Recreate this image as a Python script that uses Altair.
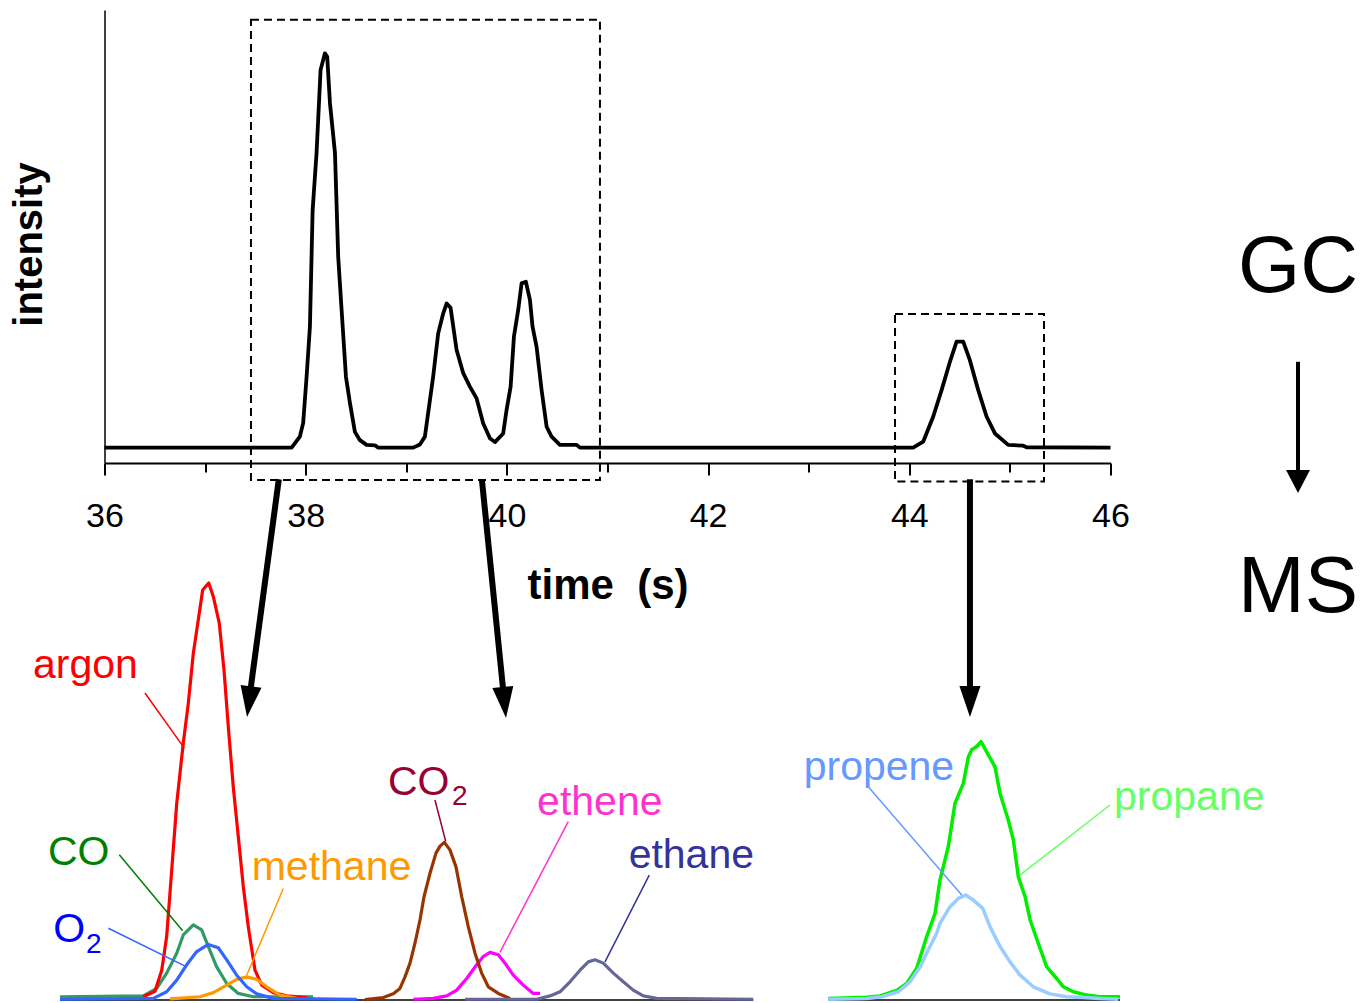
import altair as alt
import pandas as pd

FONT = "Liberation Sans"

# ---------------- GC chromatogram (time in s, normalised intensity) ----------------
gc_time = [36.0, 37.860, 37.942, 37.975, 38.009, 38.042, 38.069, 38.108, 38.148, 38.191,
           38.214, 38.241, 38.291, 38.323, 38.357, 38.400, 38.440, 38.489, 38.539, 38.605,
           38.688, 38.721, 39.069, 39.135, 39.185, 39.235, 39.267, 39.317, 39.367, 39.401,
           39.440, 39.500, 39.566, 39.632, 39.699, 39.764, 39.831, 39.881, 39.963, 39.997,
           40.037, 40.070, 40.112, 40.146, 40.189, 40.229, 40.255, 40.295, 40.345, 40.395,
           40.444, 40.527, 40.693, 40.726, 44.039, 44.138, 44.238, 44.321, 44.404, 44.470,
           44.536, 44.602, 44.685, 44.768, 44.851, 44.983, 45.132, 45.166, 46.0]
gc_intensity = [0.039, 0.039, 0.067, 0.102, 0.219, 0.346, 0.642, 0.787, 0.998, 1.040,
                1.031, 0.914, 0.787, 0.524, 0.388, 0.219, 0.152, 0.079, 0.058, 0.046,
                0.045, 0.039, 0.039, 0.047, 0.067, 0.160, 0.219, 0.329, 0.380, 0.405,
                0.394, 0.287, 0.228, 0.194, 0.164, 0.101, 0.063, 0.053, 0.075, 0.135,
                0.194, 0.321, 0.388, 0.456, 0.460, 0.414, 0.346, 0.295, 0.185, 0.092,
                0.067, 0.046, 0.046, 0.039, 0.039, 0.054, 0.118, 0.185, 0.257, 0.308,
                0.308, 0.261, 0.185, 0.118, 0.075, 0.046, 0.044, 0.040, 0.039]

# zoom windows on the chromatogram (time from/to, intensity from/to)
box_t1 = [37.456, 43.858]
box_t2 = [40.925, 45.339]
box_i1 = [-0.043, -0.047]
box_i2 = [1.125, 0.378]

# ---------------- MS traces (time, normalised ion current) ----------------
argon_t = [36.386, 36.502, 36.569, 36.618, 36.668, 36.718, 36.783, 36.833, 36.883, 36.932,
           36.976, 37.036, 37.082, 37.141, 37.188, 37.231, 37.280, 37.330, 37.380, 37.429,
           37.496, 37.563, 37.678, 37.811, 38.010]
argon_i = [0.003, 0.016, 0.067, 0.148, 0.308, 0.469, 0.614, 0.710, 0.831, 0.911,
           0.983, 1.000, 0.967, 0.903, 0.790, 0.653, 0.509, 0.389, 0.268, 0.172,
           0.067, 0.031, 0.013, 0.005, 0.001]

co_t = [35.558, 36.386, 36.519, 36.618, 36.718, 36.783, 36.883, 36.966, 37.032, 37.115,
        37.215, 37.330, 37.479, 38.073]
co_i = [0.003, 0.005, 0.023, 0.060, 0.108, 0.152, 0.176, 0.164, 0.124, 0.075,
        0.035, 0.011, 0.003, 0.003]

o2_t = [35.558, 36.485, 36.618, 36.718, 36.817, 36.917, 37.032, 37.131, 37.215, 37.314,
        37.414, 37.513, 37.678, 38.507]
o2_i = [-0.003, -0.001, 0.015, 0.043, 0.080, 0.112, 0.129, 0.121, 0.092, 0.055,
        0.027, 0.010, -0.001, -0.003]

methane_t = [36.651, 36.949, 37.082, 37.215, 37.314, 37.414, 37.513, 37.612, 37.745, 37.911]
methane_i = [-0.002, 0.003, 0.013, 0.031, 0.045, 0.051, 0.045, 0.027, 0.007, -0.001]

co2_t = [38.589, 38.771, 38.871, 38.937, 38.987, 39.037, 39.086, 39.136, 39.176, 39.235,
         39.295, 39.335, 39.378, 39.434, 39.494, 39.551, 39.616, 39.683, 39.749, 39.815,
         39.915, 40.031]
co2_i = [-0.004, 0.001, 0.010, 0.023, 0.051, 0.084, 0.132, 0.188, 0.244, 0.300,
         0.349, 0.366, 0.375, 0.357, 0.316, 0.244, 0.172, 0.108, 0.060, 0.027,
         0.011, -0.001]

ethene_t = [39.070, 39.268, 39.402, 39.501, 39.600, 39.700, 39.765, 39.832, 39.915, 39.981,
            40.064, 40.163, 40.262, 40.329]
ethene_i = [-0.003, -0.001, 0.005, 0.019, 0.047, 0.080, 0.100, 0.110, 0.104, 0.084,
            0.055, 0.031, 0.011, 0.011]

ethane_t = [39.584, 40.296, 40.428, 40.528, 40.627, 40.727, 40.809, 40.876, 40.958, 41.058,
            41.157, 41.256, 41.356, 41.489, 42.449]
ethane_i = [-0.003, -0.003, 0.005, 0.015, 0.039, 0.067, 0.087, 0.092, 0.084, 0.060,
            0.039, 0.019, 0.005, -0.001, -0.003]

propane_t = [43.195, 43.577, 43.709, 43.875, 43.974, 44.074, 44.173, 44.256, 44.305, 44.388,
             44.454, 44.537, 44.587, 44.620, 44.670, 44.713, 44.769, 44.852, 44.902, 44.984,
             45.034, 45.084, 45.151, 45.201, 45.282, 45.366, 45.465, 45.531, 45.630, 45.763,
             45.895, 46.094]
propane_i = [-0.001, 0.002, 0.005, 0.018, 0.035, 0.072, 0.148, 0.204, 0.284, 0.365,
             0.469, 0.517, 0.581, 0.598, 0.606, 0.618, 0.593, 0.557, 0.493, 0.429,
             0.381, 0.292, 0.244, 0.188, 0.132, 0.075, 0.047, 0.027, 0.015, 0.007,
             0.003, 0.003]

propene_t = [43.195, 43.577, 43.726, 43.891, 44.007, 44.107, 44.189, 44.272, 44.305, 44.405,
             44.487, 44.561, 44.636, 44.730, 44.802, 44.902, 45.001, 45.101, 45.233, 45.398,
             45.565, 45.730, 45.895, 46.077]
propene_i = [-0.003, -0.001, 0.003, 0.015, 0.039, 0.075, 0.116, 0.156, 0.180, 0.220,
             0.240, 0.248, 0.236, 0.216, 0.172, 0.124, 0.087, 0.055, 0.027, 0.010,
             0.003, 0.001, -0.001, -0.003]

# MS baselines (start, end)
base_t1 = [35.558, 38.589, 43.195]
base_t2 = [38.620, 42.449, 46.094]

# labels of the MS traces
label_text = ["argon", "CO", "O", "2", "methane", "CO", "2", "ethene", "ethane", "propene", "propane"]
label_t = [35.289, 35.438, 35.490, 35.815, 37.463, 38.818, 39.454, 40.300, 41.210, 42.950, 46.035]
label_i = [0.771, 0.320, 0.135, 0.108, 0.284, 0.489, 0.465, 0.441, 0.313, 0.525, 0.453]
label_color = ["#ff0000", "#008000", "#0000ff", "#0000ff", "#ff9900", "#990033", "#990033",
               "#ff33cc", "#333399", "#6699ff", "#66ff66"]
label_size = [41, 41, 41, 28, 41, 41, 28, 41, 41, 41, 41]

# leader lines from labels to peaks
lead_t1 = [36.402, 36.147, 36.038, 37.777, 39.285, 40.610, 41.415, 43.577, 45.995]
lead_i1 = [0.735, 0.345, 0.168, 0.264, 0.477, 0.425, 0.296, 0.513, 0.465]
lead_t2 = [36.793, 36.777, 36.817, 37.414, 39.392, 39.931, 40.975, 44.521, 45.100]
lead_i2 = [0.602, 0.162, 0.075, 0.055, 0.377, 0.110, 0.087, 0.248, 0.296]
lead_color = ["#ff0000", "#007f00", "#3366ff", "#ff9900", "#990033", "#ff33cc", "#333399",
              "#6699ff", "#66ff66"]

# arrows GC window -> MS panel
arrow_t1 = [37.733, 39.751, 44.603]
arrow_i1 = [1.250, 1.250, 1.250]
arrow_t2 = [37.448, 39.966, 44.603]
arrow_i2 = [0.737, 0.735, 0.738]
tip_t = [37.417, 39.991, 44.603]
tip_i = [0.677, 0.675, 0.677]
tip_angle = [7.4, 354.15, 0.0]

# GC -> MS side caption
side_text = ["GC", "MS"]
side_t = [47.864, 47.864]
side_i = [1.701, 0.930]
side_arrow_t = [47.864]
side_arrow_i1 = [1.533]
side_arrow_i2 = [1.262]
side_tip_i = [1.217]

# ---------------- scales ----------------
TDOM = [36, 46]


def X(f, axis=None):
    return alt.X(f, type="quantitative", scale=alt.Scale(domain=TDOM, nice=False, zero=False),
                 axis=axis)


def Ygc(f, axis=None):
    return alt.Y(f, type="quantitative", scale=alt.Scale(domain=[0, 1.15], nice=False, zero=False),
                 axis=axis)


MS_SCALE = alt.Scale(domain=[0, 1], range=[988, 573], nice=False, zero=False)


def Yms(f):
    return alt.Y(f, type="quantitative", scale=MS_SCALE, axis=None)


layers = []

# GC trace with axes
gc_df = pd.DataFrame({"t": gc_time, "i": gc_intensity})
x_axis = alt.Axis(
    values=list(range(36, 47)),
    labelExpr="datum.value % 2 === 0 ? datum.label : ''",
    tickSize={"condition": {"test": "datum.value % 2 === 1", "value": 9}, "value": 12},
    tickWidth=2, tickColor="black", domainColor="black", domainWidth=2,
    labelFont=FONT, labelFontSize=34, labelColor="black", labelBaseline="alphabetic",
    labelPadding=51, labelAlign="center",
    title="time\u00a0\u00a0(s)", titleFont=FONT, titleFontSize=42, titleFontWeight="bold",
    titleColor="black", titleBaseline="alphabetic", titleY=135, grid=False,
)
y_axis = alt.Axis(
    ticks=False, labels=False, domainColor="black", domainWidth=1.5, grid=False,
    title="intensity", titleFont=FONT, titleFontSize=40, titleFontWeight="bold",
    titleColor="black", titleAngle=270, titleX=-63, titleY=234, titleAlign="center",
    titleBaseline="alphabetic",
)
layers.append(
    alt.Chart(gc_df).mark_line(color="black", strokeWidth=3.8, strokeJoin="round")
    .encode(x=X("t", x_axis), y=Ygc("i", y_axis))
)

# zoom boxes
box_df = pd.DataFrame({"t1": box_t1, "t2": box_t2, "i1": box_i1, "i2": box_i2})
layers.append(
    alt.Chart(box_df).mark_rect(filled=False, stroke="black", strokeWidth=2, strokeDash=[8, 5])
    .encode(x=X("t1"), x2="t2", y=Ygc("i1"), y2="i2")
)

# MS baselines
base_df = pd.DataFrame({"t1": base_t1, "t2": base_t2, "i": [-0.005] * 3})
layers.append(
    alt.Chart(base_df).mark_rule(color="black", strokeWidth=1.5)
    .encode(x=X("t1"), x2="t2", y=Yms("i"))
)

# MS traces (drawing order matters)
traces = [
    (co_t, co_i, "#339966", 3.2),
    (argon_t, argon_i, "#ff0000", 3.2),
    (methane_t, methane_i, "#ff9900", 3.2),
    (o2_t, o2_i, "#3366ff", 3.2),
    (ethene_t, ethene_i, "#ff00ff", 3.2),
    (co2_t, co2_i, "#993300", 3.2),
    (ethane_t, ethane_i, "#666699", 3.2),
    (propane_t, propane_i, "#00ee00", 3.5),
    (propene_t, propene_i, "#99ccff", 3.5),
]
for tt, ii, col, w in traces:
    df = pd.DataFrame({"t": tt, "i": ii})
    layers.append(
        alt.Chart(df).mark_line(color=col, strokeWidth=w, strokeJoin="round")
        .encode(x=X("t"), y=Yms("i"))
    )

# leader lines
lead_df = pd.DataFrame({"t1": lead_t1, "i1": lead_i1, "t2": lead_t2, "i2": lead_i2,
                        "c": lead_color})
layers.append(
    alt.Chart(lead_df).mark_rule(strokeWidth=1.5)
    .encode(x=X("t1"), x2="t2", y=Yms("i1"), y2="i2", color=alt.Color("c:N", scale=None))
)

# labels
lab_df = pd.DataFrame({"label": label_text, "t": label_t, "i": label_i, "c": label_color,
                       "s": label_size})
layers.append(
    alt.Chart(lab_df).mark_text(align="left", baseline="alphabetic", font=FONT)
    .encode(x=X("t"), y=Yms("i"), text="label:N",
            color=alt.Color("c:N", scale=None), size=alt.Size("s:Q", scale=None))
)

# arrows
arr_df = pd.DataFrame({"t1": arrow_t1, "i1": arrow_i1, "t2": arrow_t2, "i2": arrow_i2})
layers.append(
    alt.Chart(arr_df).mark_rule(color="black", strokeWidth=6)
    .encode(x=X("t1"), x2="t2", y=Yms("i1"), y2="i2")
)
tip_df = pd.DataFrame({"t": tip_t, "i": tip_i, "a": tip_angle})
layers.append(
    alt.Chart(tip_df).mark_point(shape="M 0 0 L -0.68 -2 L 0.68 -2 Z", filled=True,
                                 color="black", opacity=1, size=961, strokeWidth=0)
    .encode(x=X("t"), y=Yms("i"), angle=alt.Angle("a:Q", scale=None))
)

# side caption GC -> MS
side_df = pd.DataFrame({"label": side_text, "t": side_t, "i": side_i})
layers.append(
    alt.Chart(side_df).mark_text(align="center", baseline="alphabetic", font=FONT,
                                 fontSize=80, color="black")
    .encode(x=X("t"), y=Yms("i"), text="label:N")
)
sa_df = pd.DataFrame({"t": side_arrow_t, "i1": side_arrow_i1, "i2": side_arrow_i2})
layers.append(
    alt.Chart(sa_df).mark_rule(color="black", strokeWidth=4)
    .encode(x=X("t"), y=Yms("i1"), y2="i2")
)
st_df = pd.DataFrame({"t": side_arrow_t, "i": side_tip_i})
layers.append(
    alt.Chart(st_df).mark_point(shape="M 0 0 L -1.04 -2 L 1.04 -2 Z", filled=True,
                                color="black", opacity=1, size=529, strokeWidth=0)
    .encode(x=X("t"), y=Yms("i"))
)

chart = (
    alt.layer(*layers)
    .resolve_scale(x="independent", y="independent")
    .properties(width=1006, height=453, background="white",
                autosize=alt.AutoSizeParams(type="none"),
                padding={"left": 104.5, "top": 10, "right": 252.5, "bottom": 540})
    .configure(font=FONT)
    .configure_view(stroke="transparent", strokeWidth=0)
)

chart.save("out.html", embed_options={"renderer": "svg", "actions": False})
